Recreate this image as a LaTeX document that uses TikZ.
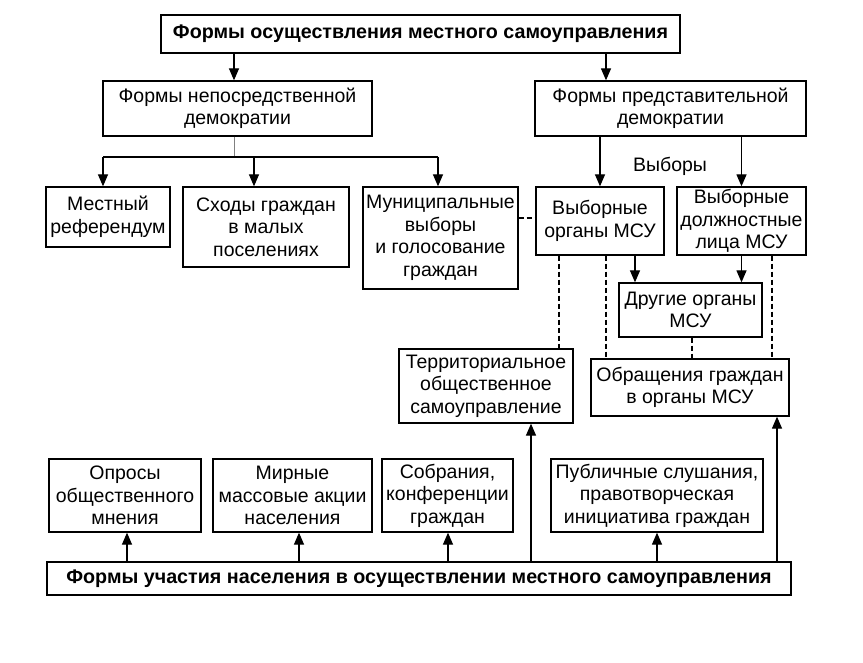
\documentclass[tikz,border=0pt]{standalone}
\usepackage{fontspec}
\setmainfont{Liberation Sans}
\usetikzlibrary{arrows.meta}
\tikzset{>={Triangle[length=12pt,width=10pt]}}
\tikzset{
	box/.style={draw, line width=1.3pt, inner sep=0pt, align=center,
			font=\fontsize{19.5}{22.5}\selectfont},
	mainbox/.style={box, line width=2.8pt, font=\fontsize{19.7}{22.5}\selectfont\bfseries},
	link/.style={line width=1.2pt, dash pattern=on 5pt off 3pt},
	arr/.style={->, line width=1.3pt}
}

\begin{document}
\begin{tikzpicture}[x=1pt,y=-1pt]
		\useasboundingbox (0,0) rectangle (863,663);

		\node[mainbox, minimum width=519, minimum height=38] (top) at (420.5,34) {Формы осуществления местного самоуправления};
		\node[box, minimum width=269, minimum height=55] (dir) at (237.5,108.5) {Формы непосредственной\\демократии};
		\node[box, minimum width=271, minimum height=55] (rep) at (670.5,108.5) {Формы представительной\\демократии};

		\node[box, minimum width=124, minimum height=60] (ref) at (108,217) {Местный\\референдум};
		\node[box, minimum width=166, minimum height=80] (meet) at (266,227) {Сходы граждан\\в малых\\поселениях};
		\node[box, minimum width=155, minimum height=102] (vote) at (440.5,238) {Муниципальные\\выборы\\и голосование\\граждан};
		\node[box, minimum width=128, minimum height=68] (organs) at (600,221) {Выборные\\органы МСУ};
		\node[box, minimum width=129, minimum height=68] (officials) at (741.5,221) {Выборные\\должностные\\лица МСУ};
		\node[box, minimum width=143, minimum height=54] (other) at (690.5,310) {Другие органы\\МСУ};
		\node[box, minimum width=174, minimum height=74] (tos) at (486,386) {Территориальное\\общественное\\самоуправление};
		\node[box, minimum width=198, minimum height=57] (appeal) at (690,387.5) {Обращения граждан\\в органы МСУ};

		\node[box, minimum width=152, minimum height=73] (poll) at (125,495.5) {Опросы\\общественного\\мнения};
		\node[box, minimum width=159, minimum height=73] (rally) at (292.5,495.5) {Мирные\\массовые акции\\населения};
		\node[box, minimum width=131, minimum height=73] (assembly) at (447.5,495.5) {Собрания,\\конференции\\граждан};
		\node[box, minimum width=212, minimum height=73] (hearing) at (657,495.5) {Публичные слушания,\\правотворческая\\инициатива граждан};
		\node[mainbox, minimum width=744, minimum height=33] (part) at (419,578.5) {Формы участия населения в осуществлении местного самоуправления};

		\node[font=\fontsize{19.5}{22.5}\selectfont] (elect) at (670,166) {Выборы};

		% top level
		\draw[arr] (top.south -| 234,0) -- (dir.north -| 234,0);
		\draw[arr] (top.south -| 606,0) -- (rep.north -| 606,0);

		% direct democracy
		\draw[gray, line width=0.8pt] (dir.south -| 234,0) -- (234,157);
		\draw[line width=1.3pt] (103,157) -- (438,157);
		\draw[arr] (103,157) -- (ref.north -| 103,0);
		\draw[arr] (254,157) -- (meet.north -| 254,0);
		\draw[arr] (438,157) -- (vote.north -| 438,0);

		% representative democracy
		\draw[arr] (rep.south -| organs.north) -- (organs.north);
		\draw[arr] (rep.south -| officials.north) -- (officials.north);
		\draw[link] (vote.east |- 0,218) -- (organs.west |- 0,218);
		\draw[arr] (organs.south -| 635,0) -- (other.north -| 635,0);
		\draw[arr] (officials.south) -- (other.north -| officials.south);
		\draw[link] (organs.south -| 559,0) -- (tos.north -| 559,0);
		\draw[link] (organs.south -| 606,0) -- (appeal.north -| 606,0);
		\draw[link] (officials.south -| 772,0) -- (appeal.north -| 772,0);
		\draw[link] (other.south -| 692,0) -- (appeal.north -| 692,0);

		% participation
		\draw[arr] (part.north -| 127,0) -- (poll.south -| 127,0);
		\draw[arr] (part.north -| 299,0) -- (rally.south -| 299,0);
		\draw[arr] (part.north -| 448,0) -- (assembly.south -| 448,0);
		\draw[arr] (part.north -| 657,0) -- (hearing.south -| 657,0);
		\draw[arr] (part.north -| 531,0) -- (tos.south -| 531,0);
		\draw[arr] (part.north -| 777,0) -- (appeal.south -| 777,0);
	\end{tikzpicture}
\end{document}
